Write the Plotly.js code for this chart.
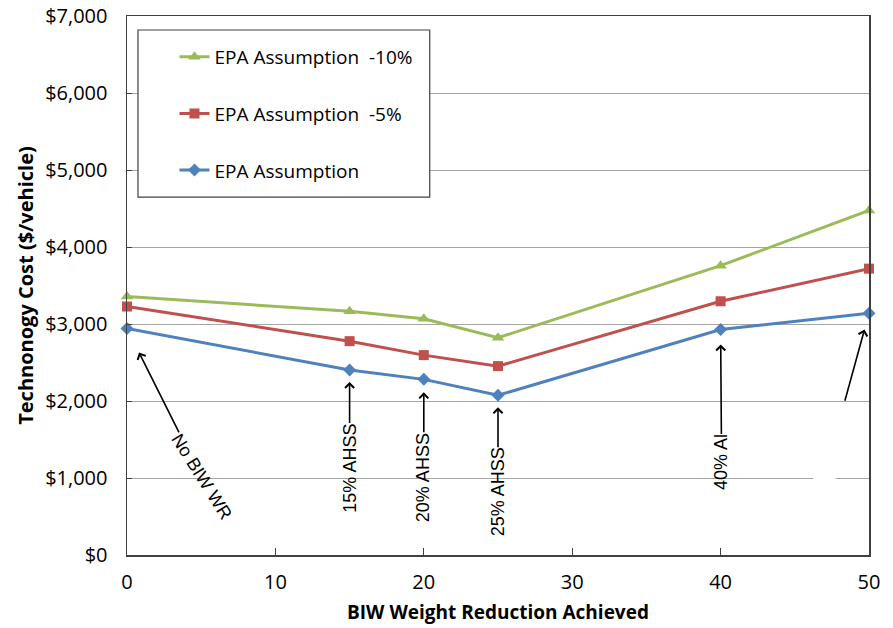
<!DOCTYPE html>
<html>
<head>
<meta charset="utf-8">
<script src="https://cdn.plot.ly/plotly-3.0.1.min.js"></script>
<style>html,body{margin:0;padding:0;background:#fff}#chart{width:893px;height:628px}</style>
</head>
<body>
<div id="chart"></div>
<script>
// Data
const weightReduction = [0, 15, 20, 25, 40, 50];
const epaMinus10 = [3356, 3166, 3067, 2821, 3758, 4474];
const epaMinus5  = [3227, 2777, 2596, 2453, 3295, 3719];
const epaBase    = [2942, 2402, 2281, 2074, 2929, 3140];
const seriesNames = ['EPA Assumption  -10%', 'EPA Assumption  -5%', 'EPA Assumption'];
const yTickVals = [0, 1000, 2000, 3000, 4000, 5000, 6000, 7000];
const yTickText = ['$0', '$1,000', '$2,000', '$3,000', '$4,000', '$5,000', '$6,000', '$7,000'];
const xTickVals = [0, 10, 20, 30, 40, 50];
const noteLabels = ['No BIW WR', '15% AHSS', '20% AHSS', '25% AHSS', '40% Al'];

const tickFont = {family: 'Open Sans, Lato, sans-serif', size: 20, color: '#000'};

function mk(y, name, color, symbol, size, group) {
  return {
    x: weightReduction, y: y, name: name, type: 'scatter', mode: 'lines+markers',
    line: {color: color, width: 3},
    marker: {color: color, symbol: symbol, size: size},
    legendgroup: group, cliponaxis: false
  };
}
const traces = [
  mk(epaMinus10, seriesNames[0], '#9BBB59', 'triangle-up', 11, 'g1'),
  mk(epaMinus5, seriesNames[1], '#C0504D', 'square', 10, 'g2'),
  mk(epaBase, seriesNames[2], '#4F81BD', 'diamond', 10, 'g3')
];

const arrowBase = {xref: 'x', yref: 'y', showarrow: true, arrowhead: 4, arrowsize: 1.1,
  arrowwidth: 1.6, arrowcolor: '#000', borderpad: 0,
  font: {family: 'Liberation Sans, Arial, sans-serif', size: 18, color: '#000'}};
const annotations = [
  Object.assign({}, arrowBase, {x: weightReduction[0], y: epaBase[0], text: noteLabels[0], textangle: 58, ax: 74, ay: 148, standoff: 27}),
  Object.assign({}, arrowBase, {x: weightReduction[1], y: epaBase[1], text: noteLabels[1], textangle: -90, ax: 0, ay: 98, standoff: 12}),
  Object.assign({}, arrowBase, {x: weightReduction[2], y: epaBase[2], text: noteLabels[2], textangle: -90, ax: 0, ay: 98, standoff: 13}),
  Object.assign({}, arrowBase, {x: weightReduction[3], y: epaBase[3], text: noteLabels[3], textangle: -90, ax: 0, ay: 97, standoff: 12}),
  Object.assign({}, arrowBase, {x: weightReduction[4], y: epaBase[4], text: noteLabels[4], textangle: -90, ax: 1, ay: 133, standoff: 15}),
  Object.assign({}, arrowBase, {x: weightReduction[5], y: epaBase[5], text: ' ', ax: -27, ay: 98, standoff: 17})
];

const layout = {
  width: 893, height: 628,
  margin: {l: 127, r: 24, t: 16, b: 73},
  paper_bgcolor: '#fff', plot_bgcolor: '#fff',
  showlegend: true,
  legend: {x: 0.064, y: 0.9595, xanchor: 'left', yanchor: 'top', bgcolor: 'rgba(0,0,0,0)',
    borderwidth: 0, traceorder: 'grouped', tracegroupgap: 29, itemwidth: 30,
    font: {family: 'Open Sans, Lato, sans-serif', size: 19, color: '#000'}},
  xaxis: {range: [0, 50], tickvals: xTickVals, ticks: 'inside', ticklen: 7, tickcolor: '#404040',
    showgrid: false, zeroline: false, showline: true, linecolor: '#404040', linewidth: 1.5, mirror: true,
    tickfont: tickFont, ticklabelstandoff: 8,
    title: {text: 'BIW Weight Reduction Achieved', font: {family: 'Open Sans, Lato, sans-serif', size: 19, color: '#000', weight: 'bold'}, standoff: 12}},
  yaxis: {range: [0, 7000], tickvals: yTickVals, ticktext: yTickText, ticks: 'inside', ticklen: 5, tickcolor: '#404040',
    showgrid: true, gridcolor: '#a6a6a6', gridwidth: 1, zeroline: false,
    showline: true, linecolor: '#404040', linewidth: 1.5, mirror: true,
    tickfont: tickFont, ticklabelstandoff: 14,
    title: {text: 'Technonogy Cost ($/vehicle)', font: {family: 'Open Sans, Lato, sans-serif', size: 20, color: '#000', weight: 'bold'}, standoff: 6}},
  shapes: [
    {type: 'rect', xref: 'paper', yref: 'paper', x0: 0.0148, x1: 0.408, y0: 0.664, y1: 0.974,
      line: {color: '#404040', width: 1.2}, fillcolor: '#fff', layer: 'above'},
    {type: 'rect', xref: 'paper', yref: 'paper', x0: 0.925, x1: 0.955, y0: 0.135, y1: 0.150,
      line: {width: 0}, fillcolor: '#fff', layer: 'above'}
  ],
  annotations: annotations
};

Plotly.newPlot('chart', traces, layout, {displayModeBar: false, staticPlot: true});
</script>
</body>
</html>
